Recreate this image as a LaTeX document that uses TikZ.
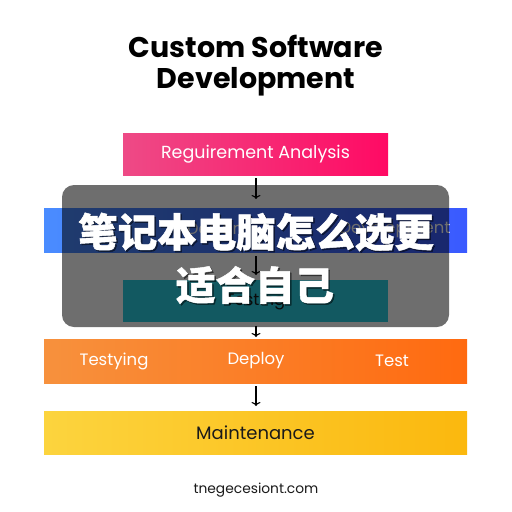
\documentclass[tikz,border=0pt]{standalone}
\usepackage{fontspec}
\setmainfont{Poppins}
\newfontfamily\cjk[BoldFeatures={FakeBold=1.2}]{Noto Sans CJK SC}
\usetikzlibrary{arrows.meta}
\definecolor{pinkL}{HTML}{EE4A86}
\definecolor{pinkR}{HTML}{FF0A64}
\definecolor{blueL}{HTML}{4A8CFF}
\definecolor{blueR}{HTML}{3A5AFF}
\definecolor{tealC}{HTML}{2AD0E2}
\definecolor{orangeL}{HTML}{F7913D}
\definecolor{orangeR}{HTML}{FF6A10}
\definecolor{yellowL}{HTML}{FCD43E}
\definecolor{yellowR}{HTML}{FBB80E}
\definecolor{txtdark}{HTML}{1A1A1A}
\tikzset{
  bar/.style={minimum height=42pt, inner sep=0pt, outer sep=0pt, draw=none},
  lbl/.style={font=\fontsize{16.5}{19}\selectfont, inner sep=0pt},
  flow/.style={-{To[length=4pt,width=9pt]}, line width=1.1pt, black},
  cjktxt/.style={inner sep=0pt, font=\fontsize{39.5}{42}\selectfont\cjk\bfseries},
}
\begin{document}
\begin{tikzpicture}[x=1pt,y=-1pt]
\useasboundingbox (0,0) rectangle (512,512);
\fill[white] (0,0) rectangle (512,512);
% title
\node[anchor=base, inner sep=0pt, font=\fontsize{28.5}{32}\selectfont\bfseries] (t1) at (256,57) {Custom Software};
\node[anchor=base, inner sep=0pt, font=\fontsize{28.5}{32}\selectfont\bfseries] (t2) at (256,88) {Development};
% bars
\node[bar, minimum width=265pt, left color=pinkL, right color=pinkR] (req) at (255.5,154) {};
\node[lbl, text=white, font=\fontsize{17.5}{20}\selectfont] at (req.center) {Reguirement Analysis};
\node[bar, minimum width=423pt, minimum height=44pt, left color=blueL, right color=blueR] (dev) at (255.5,230) {};
\node[lbl, text=white] at (215,230) {Design};
\node[lbl, text=white] at (395,230) {Development};
\node[bar, minimum width=265pt, fill=tealC] (tst) at (255.5,301) {};
\node[lbl, text=txtdark] at (tst.center) {Testing};
\node[bar, minimum width=423pt, minimum height=44pt, left color=orangeL, right color=orangeR] (dep) at (255.5,361) {};
\node[lbl, text=white] at (114,361) {Testying};
\node[lbl, text=white] at (256,361) {Deploy};
\node[lbl, text=white] at (392,361) {Test};
\node[bar, minimum width=423pt, minimum height=43pt, left color=yellowL, right color=yellowR] (mnt) at (255.5,432.5) {};
\node[lbl, text=txtdark, font=\fontsize{18}{21}\selectfont] at (mnt.center) {Maintenance};
% arrows
\draw[flow, shorten <=3pt, shorten >=9pt] (req.south -| 256,0) -- (dev.north -| 256,0);
\draw[flow, shorten <=4pt, shorten >=5pt] (dev.south -| 256,0) -- (tst.north -| 256,0);
\draw[flow, shorten <=4pt, shorten >=2pt] (tst.south -| 256,0) -- (dep.north -| 256,0);
\draw[flow, shorten <=3pt, shorten >=5pt] (dep.south -| 256,0) -- (mnt.north -| 256,0);
% footer
\node[inner sep=0pt, font=\fontsize{13.8}{16}\selectfont, text=txtdark] (foot) at (256,490) {tnegecesiont.com};
% overlay
\fill[black, fill opacity=0.57, rounded corners=12pt] (62,185) rectangle (449,327);
\node[cjktxt, text=black, opacity=0.45] at (257.5,233.5) {笔记本电脑怎么选更};
\node[cjktxt, text=black, opacity=0.45] at (256.5,286.5) {适合自己};
\node[cjktxt, text=white] (c1) at (256,232) {笔记本电脑怎么选更};
\node[cjktxt, text=white] (c2) at (255,285) {适合自己};
\end{tikzpicture}
\end{document}
